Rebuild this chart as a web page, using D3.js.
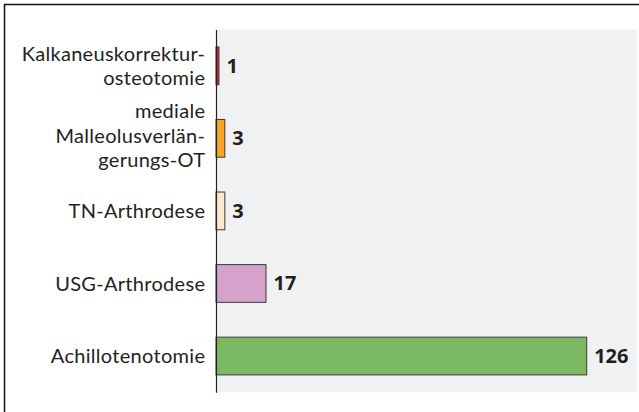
<!DOCTYPE html>
<html>
<head>
<meta charset="utf-8">
<script src="https://cdn.jsdelivr.net/npm/d3@7"></script>
<style>
  html, body { margin: 0; padding: 0; background: #fff; }
  svg { display: block; }
  text { font-family: "Open Sans", sans-serif; fill: #231f20; }
  text.cat { font-family: Lato, "Open Sans", sans-serif; letter-spacing: 0.3px; }
</style>
</head>
<body>
<script>
const categories = [
  ["Kalkaneuskorrektur-", "osteotomie"],
  ["mediale", "Malleolusverlän-", "gerungs-OT"],
  ["TN-Arthrodese"],
  ["USG-Arthrodese"],
  ["Achillotenotomie"]
];
const categoryKeys = ["Kalkaneus", "Malleolus", "TN", "USG", "Achillo"];
const values = [1, 3, 3, 17, 126];
const colors = ["#d42a2a", "#f5a623", "#fde8cf", "#d4a2cb", "#7bba63"];

const W = 639, H = 412;
const svg = d3.select("body").append("svg").attr("width", W).attr("height", H);

// frame (left and top edges)
svg.append("path")
  .attr("d", `M4.5,${H} L4.5,4.5 L${W},4.5`)
  .attr("fill", "none").attr("stroke", "#111").attr("stroke-width", 1.5);

const plotLeft = 216, plotTop = 29.5, plotBottom = 392.3, plotRight = 637;

svg.append("rect")
  .attr("x", plotLeft).attr("y", plotTop)
  .attr("width", plotRight - plotLeft).attr("height", plotBottom - plotTop)
  .attr("fill", "#f0f1f3");

const x = d3.scaleLinear().domain([0, 126]).range([plotLeft, 586.7]);
const y = d3.scaleBand().domain(categoryKeys).range([plotTop, plotBottom])
  .paddingInner(0.48).paddingOuter(0.24);

svg.append("g").selectAll("rect.bar").data(values).join("rect")
  .attr("class", "bar")
  .attr("x", x(0))
  .attr("y", (d, i) => y(categoryKeys[i]))
  .attr("width", d => x(d) - x(0))
  .attr("height", y.bandwidth())
  .attr("fill", (d, i) => colors[i])
  .attr("stroke", "#3a3a3a")
  .attr("stroke-width", 1);

// axis line
const axis = d3.axisLeft(y).tickSize(0).tickFormat("");
const ag = svg.append("g").attr("transform", `translate(${plotLeft},0)`).call(axis);
ag.select(".domain").attr("stroke", "#222").attr("stroke-width", 1.2);

// category labels (one text element per line)
const lineH = 24.3;
const labelG = svg.append("g");
categories.forEach((lines, i) => {
  const cy = y(categoryKeys[i]) + y.bandwidth() / 2;
  const first = cy + 7.3 - (lines.length - 1) * lineH / 2 - (lines.length === 3 ? 3 : 0);
  lines.forEach((ln, j) => {
    labelG.append("text")
      .attr("class", "cat")
      .attr("text-anchor", "end")
      .attr("font-size", 20)
      .attr("x", 205.3)
      .attr("y", first + j * lineH)
      .text(ln);
  });
});

// value labels
svg.selectAll("text.val").data(values).join("text")
  .attr("class", "val")
  .attr("x", d => x(d) + 7.5)
  .attr("y", (d, i) => y(categoryKeys[i]) + y.bandwidth() / 2 + 7)
  .attr("font-size", 20)
  .attr("font-weight", "bold")
  .text(d => d);
</script>
</body>
</html>
